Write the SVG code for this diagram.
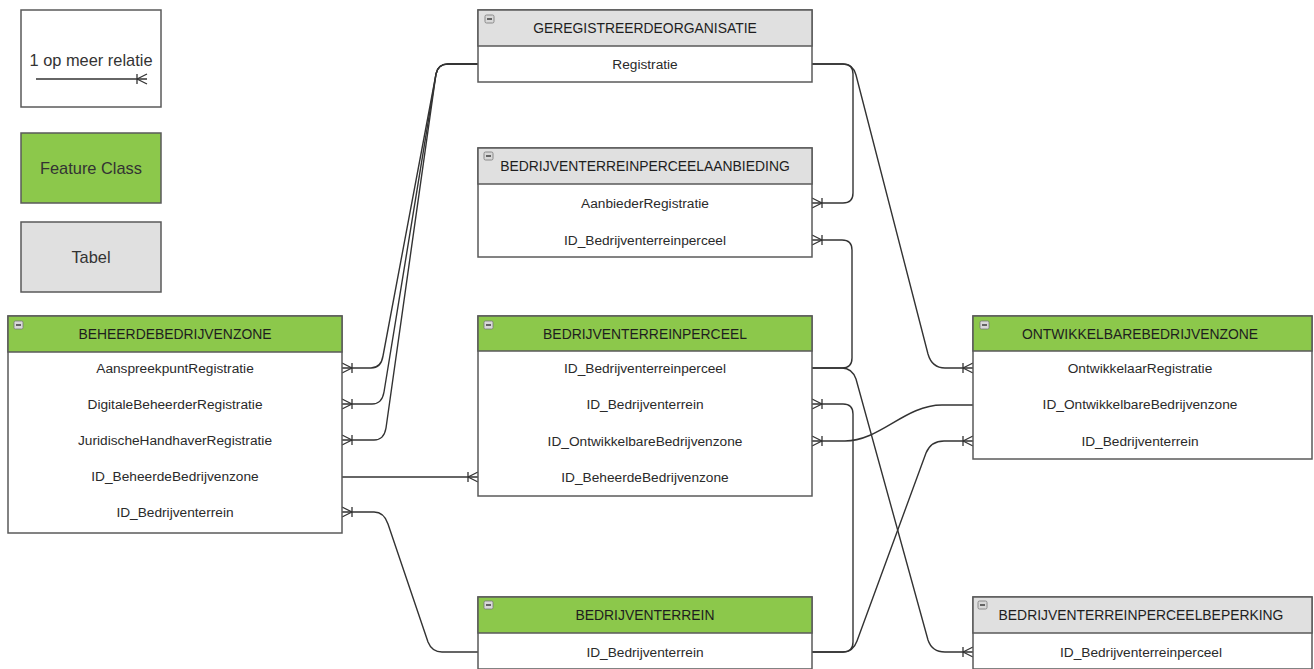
<svg xmlns="http://www.w3.org/2000/svg" width="1314" height="669" viewBox="0 0 1314 669">
<style>
.box{fill:#fff;stroke:#5a5a5a;stroke-width:1.5}
.green{fill:#8cc84b;stroke:#5a5a5a;stroke-width:1.5}
.gray{fill:#e0e0e0;stroke:#5a5a5a;stroke-width:1.5}
.hd{font-family:"Liberation Sans",Arial,sans-serif;font-size:13.9px;fill:#1e1e1e;text-anchor:middle}
.fd{font-family:"Liberation Sans",Arial,sans-serif;font-size:13.7px;fill:#2a2a2a;text-anchor:middle}
.lg{font-family:"Liberation Sans",Arial,sans-serif;font-size:16.4px;fill:#333;text-anchor:middle}
.con{fill:none;stroke:#333;stroke-width:1.4}
.end{marker-end:url(#many)}
</style>
<defs>
<marker id="many" viewBox="-12 -7 14 14" refX="0" refY="0" markerWidth="14" markerHeight="14" markerUnits="userSpaceOnUse" orient="auto" overflow="visible">
<path d="M-10,0 L0,-5 M-10,0 L0,5 M-10,-5 V5" fill="none" stroke="#333" stroke-width="1.3"/>
</marker>
<g id="minus">
<rect x="0" y="0" width="9" height="8" rx="1.5" fill="#d8d8d8" stroke="#777" stroke-width="0.8"/>
<line x1="2" y1="4" x2="7" y2="4" stroke="#333" stroke-width="1.4"/>
</g>
</defs>

<g id="legend">
<rect x="21" y="10" width="140" height="97" class="box"/>
<text x="91" y="66" class="lg">1 op meer relatie</text>
<path d="M36,79 H147" class="con end"/>
<rect x="21" y="133" width="140" height="70" class="green"/>
<text x="91" y="174" class="lg">Feature Class</text>
<rect x="21" y="222" width="140" height="70" class="gray"/>
<text x="91" y="263" class="lg">Tabel</text>
</g>

<g id="connectors">
<path d="M478,64 H448 Q438,64 436,74 L383,356 Q381,368 371,368 H342" class="con end"/>
<path d="M478,64 H448 Q438,64 436,74 L384,392 Q382,404 372,404 H342" class="con end"/>
<path d="M478,64 H448 Q438,64 436,74 L386,428 Q384,440 374,440 H342" class="con end"/>
<path d="M812,64 H843 Q853,64 853,74 V193 Q853,203 843,203 H812" class="con end"/>
<path d="M812,64 H843 Q853,64 856,75 L928,354 Q932,368 945,368 H973" class="con end"/>
<path d="M812,368 H842 Q852,368 852,358 V250 Q852,240 842,240 H812" class="con end"/>
<path d="M812,368 H842 Q852,368 856,379 L928,640 Q932,652 945,652 H973" class="con end"/>
<path d="M812,652 H843 Q853,652 853,642 V414 Q853,404 843,404 H812" class="con end"/>
<path d="M812,652 H843 Q853,652 857,641 L926,453 Q931,441 944,441 H973" class="con end"/>
<path d="M973,405 H942 C905,405 880,441 845,441 H812" class="con end"/>
<path d="M342,477 H478" class="con end"/>
<path d="M478,652 H442 Q432,652 428,642 L388,524 Q384,512 374,512 H342" class="con end"/>
</g>

<g id="geregistreerdeorganisatie">
<rect x="478" y="10" width="334" height="72" class="box"/>
<rect x="478" y="10" width="334" height="36" class="gray"/>
<use href="#minus" x="485" y="15"/>
<text x="645" y="33" class="hd">GEREGISTREERDEORGANISATIE</text>
<text x="645" y="69" class="fd">Registratie</text>
</g>

<g id="bedrijventerreinperceelaanbieding">
<rect x="478" y="148" width="334" height="109" class="box"/>
<rect x="478" y="148" width="334" height="36" class="gray"/>
<use href="#minus" x="484" y="152"/>
<text x="645" y="171" class="hd">BEDRIJVENTERREINPERCEELAANBIEDING</text>
<text x="645" y="208" class="fd">AanbiederRegistratie</text>
<text x="645" y="245" class="fd">ID_Bedrijventerreinperceel</text>
</g>

<g id="beheerdebedrijvenzone">
<rect x="8" y="316" width="334" height="217" class="box"/>
<rect x="8" y="316" width="334" height="36" class="green"/>
<use href="#minus" x="14" y="321"/>
<text x="175" y="339" class="hd">BEHEERDEBEDRIJVENZONE</text>
<text x="175" y="373" class="fd">AanspreekpuntRegistratie</text>
<text x="175" y="409" class="fd">DigitaleBeheerderRegistratie</text>
<text x="175" y="445" class="fd">JuridischeHandhaverRegistratie</text>
<text x="175" y="481" class="fd">ID_BeheerdeBedrijvenzone</text>
<text x="175" y="517" class="fd">ID_Bedrijventerrein</text>
</g>

<g id="bedrijventerreinperceel">
<rect x="478" y="316" width="334" height="180" class="box"/>
<rect x="478" y="316" width="334" height="35" class="green"/>
<use href="#minus" x="484" y="321"/>
<text x="645" y="339" class="hd">BEDRIJVENTERREINPERCEEL</text>
<text x="645" y="373" class="fd">ID_Bedrijventerreinperceel</text>
<text x="645" y="409" class="fd">ID_Bedrijventerrein</text>
<text x="645" y="446" class="fd">ID_OntwikkelbareBedrijvenzone</text>
<text x="645" y="482" class="fd">ID_BeheerdeBedrijvenzone</text>
</g>

<g id="ontwikkelbarebedrijvenzone">
<rect x="973" y="316" width="339" height="143" class="box"/>
<rect x="973" y="316" width="339" height="35" class="green"/>
<use href="#minus" x="980" y="321"/>
<text x="1140" y="339" class="hd">ONTWIKKELBAREBEDRIJVENZONE</text>
<text x="1140" y="373" class="fd">OntwikkelaarRegistratie</text>
<text x="1140" y="409" class="fd">ID_OntwikkelbareBedrijvenzone</text>
<text x="1140" y="446" class="fd">ID_Bedrijventerrein</text>
</g>

<g id="bedrijventerrein">
<rect x="478" y="597" width="334" height="72" class="box"/>
<rect x="478" y="597" width="334" height="36" class="green"/>
<use href="#minus" x="484" y="601"/>
<text x="645" y="620" class="hd">BEDRIJVENTERREIN</text>
<text x="645" y="657" class="fd">ID_Bedrijventerrein</text>
</g>

<g id="bedrijventerreinperceelbeperking">
<rect x="973" y="597" width="339" height="72" class="box"/>
<rect x="973" y="597" width="339" height="36" class="gray"/>
<use href="#minus" x="978" y="601"/>
<text x="1141" y="620" class="hd">BEDRIJVENTERREINPERCEELBEPERKING</text>
<text x="1141" y="657" class="fd">ID_Bedrijventerreinperceel</text>
</g>
</svg>
